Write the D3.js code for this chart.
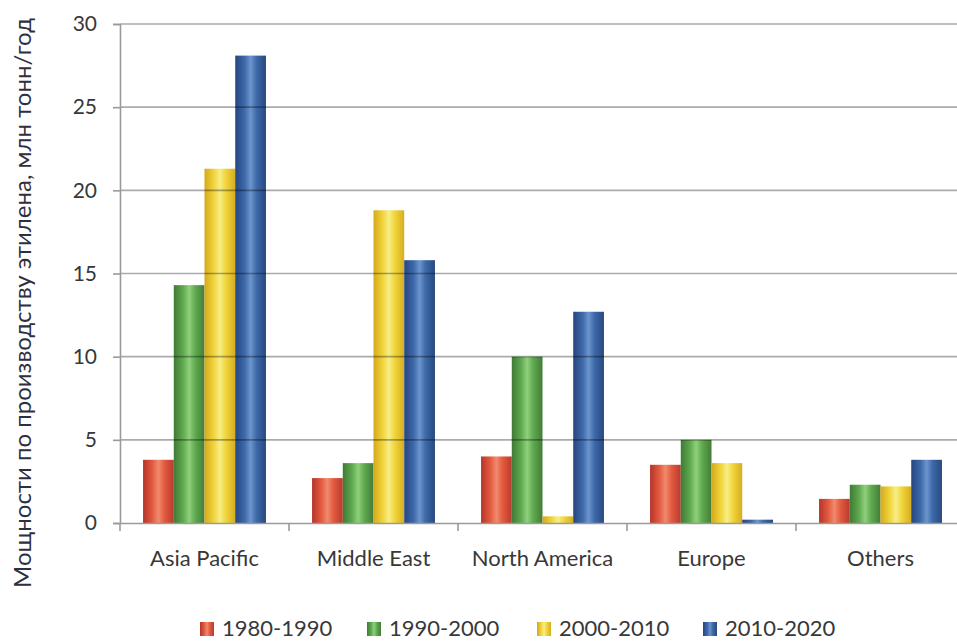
<!DOCTYPE html>
<html><head><meta charset="utf-8">
<script src="https://cdn.jsdelivr.net/npm/d3@7"></script>
<style>body{margin:0;background:#fff}svg{display:block}text{font-family:Lato,"Open Sans",sans-serif}</style>
</head><body><svg id="c" width="957" height="641"></svg>
<script>
const categories = ["Asia Pacific","Middle East","North America","Europe","Others"];
const seriesNames = ["1980-1990","1990-2000","2000-2010","2010-2020"];
const s1980 = [3.8, 2.7, 4.0, 3.5, 1.45];
const s1990 = [14.3, 3.6, 10.0, 5.0, 2.3];
const s2000 = [21.3, 18.8, 0.4, 3.6, 2.2];
const s2010 = [28.1, 15.8, 12.7, 0.2, 3.8];
const yTicks = [0,5,10,15,20,25,30];
const yTitle = "Мощности по производству этилена, млн тонн/год";

const seriesValues = [s1980, s1990, s2000, s2010];
const palettes = [
  ["#b5352b","#e35a3f","#f08a6e","#e35a3f","#b83a2e"],
  ["#3f7a35","#5fa94f","#8fd07c","#5fa94f","#437d38"],
  ["#d4a91c","#f0d43a","#f7ee86","#f0d43a","#d6ad22"],
  ["#26467f","#3d68a8","#6b95cc","#3d68a8","#28497f"]
];

const svg = d3.select("#c");
const defs = svg.append("defs");
palettes.forEach((p,i)=>{
  const g = defs.append("linearGradient").attr("id","g"+i).attr("x1","0").attr("x2","1").attr("y1","0").attr("y2","0");
  [0,0.3,0.5,0.7,1].forEach((o,j)=>g.append("stop").attr("offset",o).attr("stop-color",p[j]));
});

const pL = 120, pR = 965, pT = 24, pB = 523;
const x = d3.scaleBand().domain(categories).range([pL,pR]).paddingInner(0).paddingOuter(0);
const xs = d3.scaleBand().domain(seriesNames).range([0,x.bandwidth()]).paddingOuter(0.75).paddingInner(0);
const y = d3.scaleLinear().domain([0,30]).range([pB,pT]);

// bars
seriesNames.forEach((s,i)=>{
  svg.append("g").selectAll("rect").data(categories).join("rect")
    .attr("x",c=>x(c)+xs(s))
    .attr("width",xs.bandwidth())
    .attr("y",(c,k)=>y(seriesValues[i][k]))
    .attr("height",(c,k)=>y(0)-y(seriesValues[i][k]))
    .attr("fill","url(#g"+i+")");
});

// gridlines on top
svg.append("g").selectAll("line").data(yTicks.filter(t=>t>0)).join("line")
  .attr("x1",pL).attr("x2",pR).attr("y1",d=>y(d)).attr("y2",d=>y(d))
  .attr("stroke","rgba(0,0,0,0.33)").attr("stroke-width",1.6);

// y axis
const ya = svg.append("g").attr("transform",`translate(${pL},0)`)
  .call(d3.axisLeft(y).tickValues(yTicks).tickSize(7).tickPadding(16));
ya.select(".domain").attr("stroke","#9a9a9a").attr("stroke-width",1.6);
ya.selectAll(".tick line").attr("stroke","#9a9a9a").attr("stroke-width",1.6);
ya.selectAll("text").attr("font-size",21).attr("fill","#383838").attr("font-family","Lato");

// x axis
const xa = svg.append("g").attr("transform",`translate(0,${pB})`)
  .call(d3.axisBottom(x).tickSize(0).tickPadding(27));
xa.select(".domain").attr("stroke","#9a9a9a").attr("stroke-width",1.6);
xa.selectAll("text").attr("font-size",22).attr("fill","#383838").attr("font-family","Lato");
svg.append("g").selectAll("line").data(categories).join("line")
  .attr("x1",c=>x(c)).attr("x2",c=>x(c)).attr("y1",pB).attr("y2",pB+8)
  .attr("stroke","#9a9a9a").attr("stroke-width",1.6);

// y title
svg.append("text").attr("transform","translate(31,303) rotate(-90)")
  .attr("text-anchor","middle").attr("font-size",24).attr("fill","#2e3040")
  .text(yTitle);

// legend
const lx = [200,367,537,703];
const lg = svg.append("g").selectAll("g").data(seriesNames).join("g")
  .attr("transform",(d,i)=>`translate(${lx[i]},622)`);
lg.append("rect").attr("width",14).attr("height",14).attr("fill",(d,i)=>`url(#g${i})`);
lg.append("text").attr("x",22).attr("y",14).attr("font-size",22).attr("fill","#383838").text(d=>d);
</script></body></html>
